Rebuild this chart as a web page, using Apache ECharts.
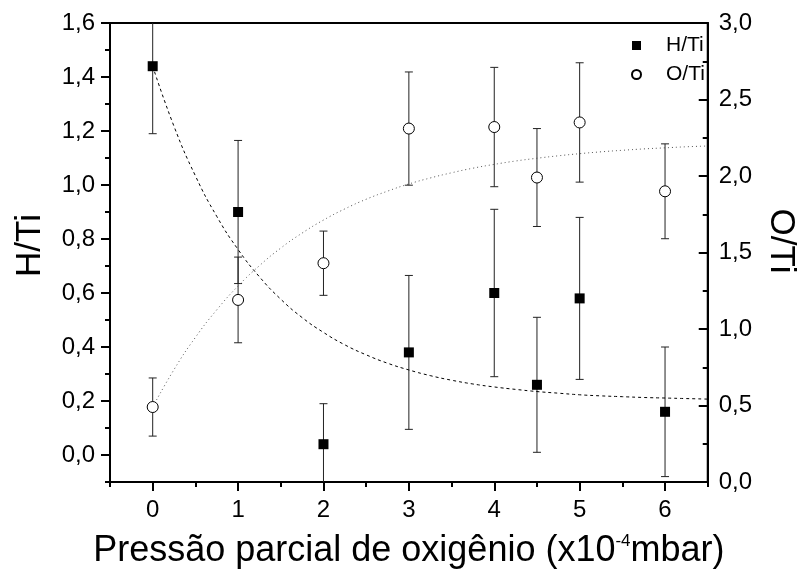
<!DOCTYPE html>
<html>
<head>
<meta charset="utf-8">
<script src="https://cdn.jsdelivr.net/npm/echarts@6/dist/echarts.min.js"></script>
<style>
html,body{margin:0;padding:0;background:#fff;}
#chart{width:806px;height:574px;}
</style>
</head>
<body>
<div id="chart"></div>
<script>
// ---- data ----
const pressure = [0, 1, 2, 3, 4, 4.5, 5, 6];            // x10^-4 mbar
const hTi      = [1.44, 0.90, 0.04, 0.38, 0.60, 0.26, 0.58, 0.16];
const hTiErr   = [0.25, 0.265, 0.15, 0.285, 0.31, 0.25, 0.30, 0.24];
const oTi      = [0.49, 1.19, 1.43, 2.31, 2.32, 1.99, 2.35, 1.90];
const oTiErr   = [0.19, 0.28, 0.21, 0.37, 0.39, 0.32, 0.39, 0.31];

// fitted curves
const fitX  = [0, 0.25, 0.5, 0.75, 1, 1.25, 1.5, 1.75, 2, 2.25, 2.5, 2.75, 3, 3.25, 3.5, 3.75, 4, 4.25, 4.5, 4.75, 5, 5.25, 5.5, 5.75, 6, 6.25, 6.5];
const hFit  = [1.440, 1.217, 1.034, 0.884, 0.761, 0.660, 0.577, 0.509, 0.454, 0.408, 0.371, 0.340, 0.315, 0.294, 0.277, 0.263, 0.252, 0.243, 0.235, 0.229, 0.223, 0.219, 0.216, 0.213, 0.211, 0.209, 0.207];
const oFit  = [0.490, 0.735, 0.945, 1.125, 1.281, 1.414, 1.529, 1.627, 1.712, 1.785, 1.848, 1.901, 1.948, 1.987, 2.021, 2.051, 2.076, 2.098, 2.116, 2.132, 2.146, 2.158, 2.168, 2.177, 2.184, 2.191, 2.196];

// ticks
const xMajor  = [0, 1, 2, 3, 4, 5, 6];
const hMajor  = [0, 0.2, 0.4, 0.6, 0.8, 1.0, 1.2, 1.4, 1.6];

const FONT = "'Liberation Sans', Arial, Helvetica, sans-serif";
const comma = v => Number(v).toFixed(1).replace('.', ',');
const pairs = (xs, ys) => xs.map((x, i) => [x, ys[i]]);
const errData = (xs, ys, es) => xs.map((x, i) => [x, ys[i] - es[i], ys[i] + es[i]]);

function errorBar(params, api) {
  const x = api.value(0);
  const lo = api.coord([x, api.value(1)]);
  const hi = api.coord([x, api.value(2)]);
  const hw = 4;
  const st = { stroke: '#222', lineWidth: 1 };
  return {
    type: 'group',
    children: [
      { type: 'line', shape: { x1: lo[0], y1: lo[1], x2: hi[0], y2: hi[1] }, style: st },
      { type: 'line', shape: { x1: lo[0] - hw, y1: lo[1], x2: lo[0] + hw, y2: lo[1] }, style: st },
      { type: 'line', shape: { x1: hi[0] - hw, y1: hi[1], x2: hi[0] + hw, y2: hi[1] }, style: st }
    ]
  };
}

const blackAxis = { show: true, onZero: false, lineStyle: { color: '#000', width: 2 } };
const noAxis = { show: false, onZero: false };
const tickStyle = { color: '#000', width: 2 };

const chart = echarts.init(document.getElementById('chart'), null, { renderer: 'canvas' });
chart.setOption({
  animation: false,
  backgroundColor: '#fff',
  textStyle: { fontFamily: FONT },
  grid: { left: 110, right: 87, top: 23, bottom: 91, show: true, borderColor: '#000', borderWidth: 2 },
  legend: {
    data: [
      { name: 'H/Ti', icon: 'rect' },
      { name: 'O/Ti', icon: 'circle' }
    ],
    orient: 'vertical',
    left: 626,
    top: 30,
    itemWidth: 9,
    itemHeight: 9,
    itemGap: 8,
    textStyle: { fontSize: 21, color: '#000', fontFamily: FONT, padding: [0, 0, 0, 20] }
  },
  xAxis: [
    {
      type: 'value', min: -0.5, max: 6.5, position: 'bottom',
      axisLine: blackAxis,
      axisTick: { show: true, customValues: xMajor, length: 9, lineStyle: tickStyle },
      axisLabel: { customValues: xMajor, margin: 16, fontSize: 24, color: '#000', fontFamily: FONT },
      splitLine: { show: false },
      name: '{t|Pressão parcial de oxigênio (x10}{s|-4}{t|mbar)}',
      nameLocation: 'middle',
      nameGap: 51,
      nameTextStyle: {
        color: '#000', fontFamily: FONT,
        rich: {
          t: { fontSize: 36, color: '#000', fontFamily: FONT },
          s: { fontSize: 17, color: '#000', fontFamily: FONT, verticalAlign: 'top' }
        }
      }
    },
    {
      type: 'value', min: -0.5, max: 6.5, interval: 0.5, position: 'bottom',
      axisLine: noAxis,
      axisTick: { show: true, length: 5, lineStyle: tickStyle },
      axisLabel: { show: false },
      splitLine: { show: false }
    }
  ],
  yAxis: [
    {
      type: 'value', min: -0.1, max: 1.6, position: 'left',
      axisLine: blackAxis,
      axisTick: { show: true, customValues: hMajor, length: 9, lineStyle: tickStyle },
      axisLabel: { customValues: hMajor, formatter: comma, margin: 15, fontSize: 24, color: '#000', fontFamily: FONT },
      splitLine: { show: false },
      name: 'H/Ti',
      nameLocation: 'middle',
      nameGap: 62,
      nameTextStyle: { fontSize: 35, color: '#000', fontFamily: FONT, padding: [0, 0, 0, 14] }
    },
    {
      type: 'value', min: 0, max: 3, interval: 0.5, position: 'right',
      axisLine: blackAxis,
      axisTick: { show: true, inside: true, length: 9, lineStyle: tickStyle },
      minorTick: { show: true, splitNumber: 2, length: 5, lineStyle: tickStyle },
      axisLabel: { formatter: comma, margin: 11, fontSize: 24, color: '#000', fontFamily: FONT },
      splitLine: { show: false },
      minorSplitLine: { show: false },
      name: 'O/Ti',
      nameLocation: 'middle',
      nameRotate: -90,
      nameGap: 50,
      nameTextStyle: { fontSize: 35, color: '#000', fontFamily: FONT, padding: [0, 23, 0, 0] }
    },
    {
      type: 'value', min: -0.1, max: 1.6, interval: 0.1, position: 'left',
      axisLine: noAxis,
      axisTick: { show: true, length: 5, lineStyle: tickStyle },
      axisLabel: { show: false },
      splitLine: { show: false }
    }
  ],
  series: [
    {
      type: 'custom', name: 'H/Ti err', xAxisIndex: 0, yAxisIndex: 0,
      renderItem: errorBar, data: errData(pressure, hTi, hTiErr),
      encode: { x: 0, y: [1, 2] }, clip: true, z: 2, silent: true
    },
    {
      type: 'custom', name: 'O/Ti err', xAxisIndex: 0, yAxisIndex: 1,
      renderItem: errorBar, data: errData(pressure, oTi, oTiErr),
      encode: { x: 0, y: [1, 2] }, clip: true, z: 2, silent: true
    },
    {
      type: 'line', name: 'H/Ti fit', xAxisIndex: 0, yAxisIndex: 0,
      data: pairs(fitX, hFit), smooth: true, showSymbol: false, symbol: 'none',
      lineStyle: { color: '#000', width: 1, type: [3, 3] }, z: 3, silent: true
    },
    {
      type: 'line', name: 'O/Ti fit', xAxisIndex: 0, yAxisIndex: 1,
      data: pairs(fitX, oFit), smooth: true, showSymbol: false, symbol: 'none',
      lineStyle: { color: '#555', width: 1, type: [1, 3] }, z: 3, silent: true
    },
    {
      type: 'scatter', name: 'H/Ti', xAxisIndex: 0, yAxisIndex: 0,
      data: pairs(pressure, hTi), symbol: 'rect', symbolSize: 10,
      itemStyle: { color: '#000', opacity: 1 }, z: 5
    },
    {
      type: 'scatter', name: 'O/Ti', xAxisIndex: 0, yAxisIndex: 1,
      data: pairs(pressure, oTi), symbol: 'circle', symbolSize: 11,
      itemStyle: { color: '#fff', borderColor: '#000', borderWidth: 1, opacity: 1 }, z: 5
    }
  ]
});
</script>
</body>
</html>
